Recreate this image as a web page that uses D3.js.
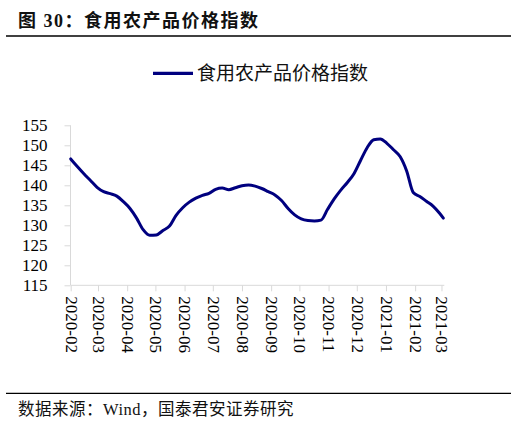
<!DOCTYPE html>
<html><head><meta charset="utf-8">
<script src="https://cdn.jsdelivr.net/npm/d3@7"></script>
<style>
html,body{margin:0;padding:0;background:#fff;}
svg{display:block;}
</style></head>
<body>
<svg id="c" width="511" height="431"></svg>
<script>
const titleText = "图 30：食用农产品价格指数";
const seriesName = "食用农产品价格指数";
const sourceText = "数据来源：Wind，国泰君安证券研究";
const dates = ["2020-02-01","2020-02-08","2020-02-15","2020-02-22","2020-02-29","2020-03-07","2020-03-14","2020-03-21","2020-03-28",
"2020-04-04","2020-04-11","2020-04-18","2020-04-25","2020-05-02","2020-05-09","2020-05-16","2020-05-23","2020-05-30",
"2020-06-06","2020-06-13","2020-06-20","2020-06-27","2020-07-04","2020-07-11","2020-07-18","2020-07-25",
"2020-08-01","2020-08-08","2020-08-15","2020-08-22","2020-08-29","2020-09-05","2020-09-12","2020-09-19","2020-09-26",
"2020-10-03","2020-10-10","2020-10-17","2020-10-24","2020-10-31","2020-11-07","2020-11-14","2020-11-21","2020-11-28",
"2020-12-05","2020-12-12","2020-12-19","2020-12-26","2021-01-02","2021-01-09","2021-01-16","2021-01-23","2021-01-30",
"2021-02-06","2021-02-13","2021-02-20","2021-02-27","2021-03-03"];
const values = [146.6,144.7,142.9,141.2,139.5,138.4,137.9,137.3,135.9,
134.2,131.8,128.9,127.5,127.6,128.7,129.8,132.5,134.4,
135.8,136.8,137.5,138.0,139.0,139.3,138.9,139.4,
139.9,140.1,139.8,139.2,138.4,137.6,136.2,134.2,132.6,
131.6,131.2,131.1,131.3,134.0,136.6,138.8,140.7,142.9,
146.2,149.4,151.4,151.6,150.5,148.9,147.2,143.6,138.2,
137.2,136.0,134.8,133.0,131.8];
const xTicks = ["2020-02","2020-03","2020-04","2020-05","2020-06","2020-07","2020-08","2020-09","2020-10","2020-11","2020-12","2021-01","2021-02","2021-03"];
const yTicks = [115,120,125,130,135,140,145,150,155];

const svg = d3.select("#c");
const parse = d3.timeParse("%Y-%m-%d");
const parseM = d3.timeParse("%Y-%m");
const data = dates.map((d,i)=>({date:parse(d), v:values[i]}));

const x = d3.scaleTime().domain([parse("2020-02-01"), parse("2021-03-04")]).range([70.7, 444.3]);
const y = d3.scaleLinear().domain([115,155]).range([285.3,125.3]);

const serif = "'Liberation Serif','Times New Roman',serif";
const mixed = "'Liberation Serif','Noto Sans CJK SC',serif";

// title
svg.append("text").attr("x",18).attr("y",27).attr("font-family",mixed).attr("font-weight","bold")
  .attr("font-size",18).attr("letter-spacing",1.5).attr("fill","#111").text(titleText);
svg.append("line").attr("x1",6).attr("x2",511).attr("y1",36).attr("y2",36).attr("stroke","#000").attr("stroke-width",1.3);
svg.append("line").attr("x1",6).attr("x2",511).attr("y1",393.3).attr("y2",393.3).attr("stroke","#000").attr("stroke-width",1.3);
svg.append("text").attr("x",18).attr("y",415).attr("font-family",mixed)
  .attr("font-size",16.5).attr("letter-spacing",0.5).attr("fill","#111").text(sourceText);

// legend
svg.append("line").attr("x1",153).attr("x2",193).attr("y1",73.3).attr("y2",73.3).attr("stroke","#00007f").attr("stroke-width",3.2);
svg.append("text").attr("x",197).attr("y",80).attr("font-family",mixed).attr("font-size",19).attr("fill","#111").text(seriesName);

// y axis
const yAxis = svg.append("g").attr("transform","translate(70.5,0)")
  .call(d3.axisLeft(y).tickValues(yTicks).tickSize(6).tickPadding(17).tickFormat(d3.format("d")));
yAxis.select(".domain").attr("stroke","#d9d9d9").attr("d","M0,125.3V285.3");
yAxis.selectAll(".tick line").attr("stroke","#d9d9d9");
yAxis.selectAll(".tick text").attr("font-family",serif).attr("font-size",17).attr("fill","#000");

// x axis
const xAxis = svg.append("g").attr("transform","translate(0,285.3)")
  .call(d3.axisBottom(x).tickValues(xTicks.map(parseM)).tickSize(6).tickFormat(d3.timeFormat("%Y-%m")));
xAxis.select(".domain").attr("stroke","#d9d9d9").attr("d","M70.7,0H444.3");
xAxis.selectAll(".tick line").attr("stroke","#d9d9d9");
xAxis.selectAll(".tick text").attr("font-family",serif).attr("font-size",17).attr("fill","#000")
  .attr("text-anchor","start").attr("transform","rotate(90)").attr("x",11).attr("y",0).attr("dy","0.33em");

// line
svg.append("path").datum(data).attr("fill","none").attr("stroke","#00007f").attr("stroke-width",3)
  .attr("stroke-linejoin","round").attr("stroke-linecap","round")
  .attr("d", d3.line().x(d=>x(d.date)).y(d=>y(d.v)).curve(d3.curveMonotoneX));
</script>
</body></html>
